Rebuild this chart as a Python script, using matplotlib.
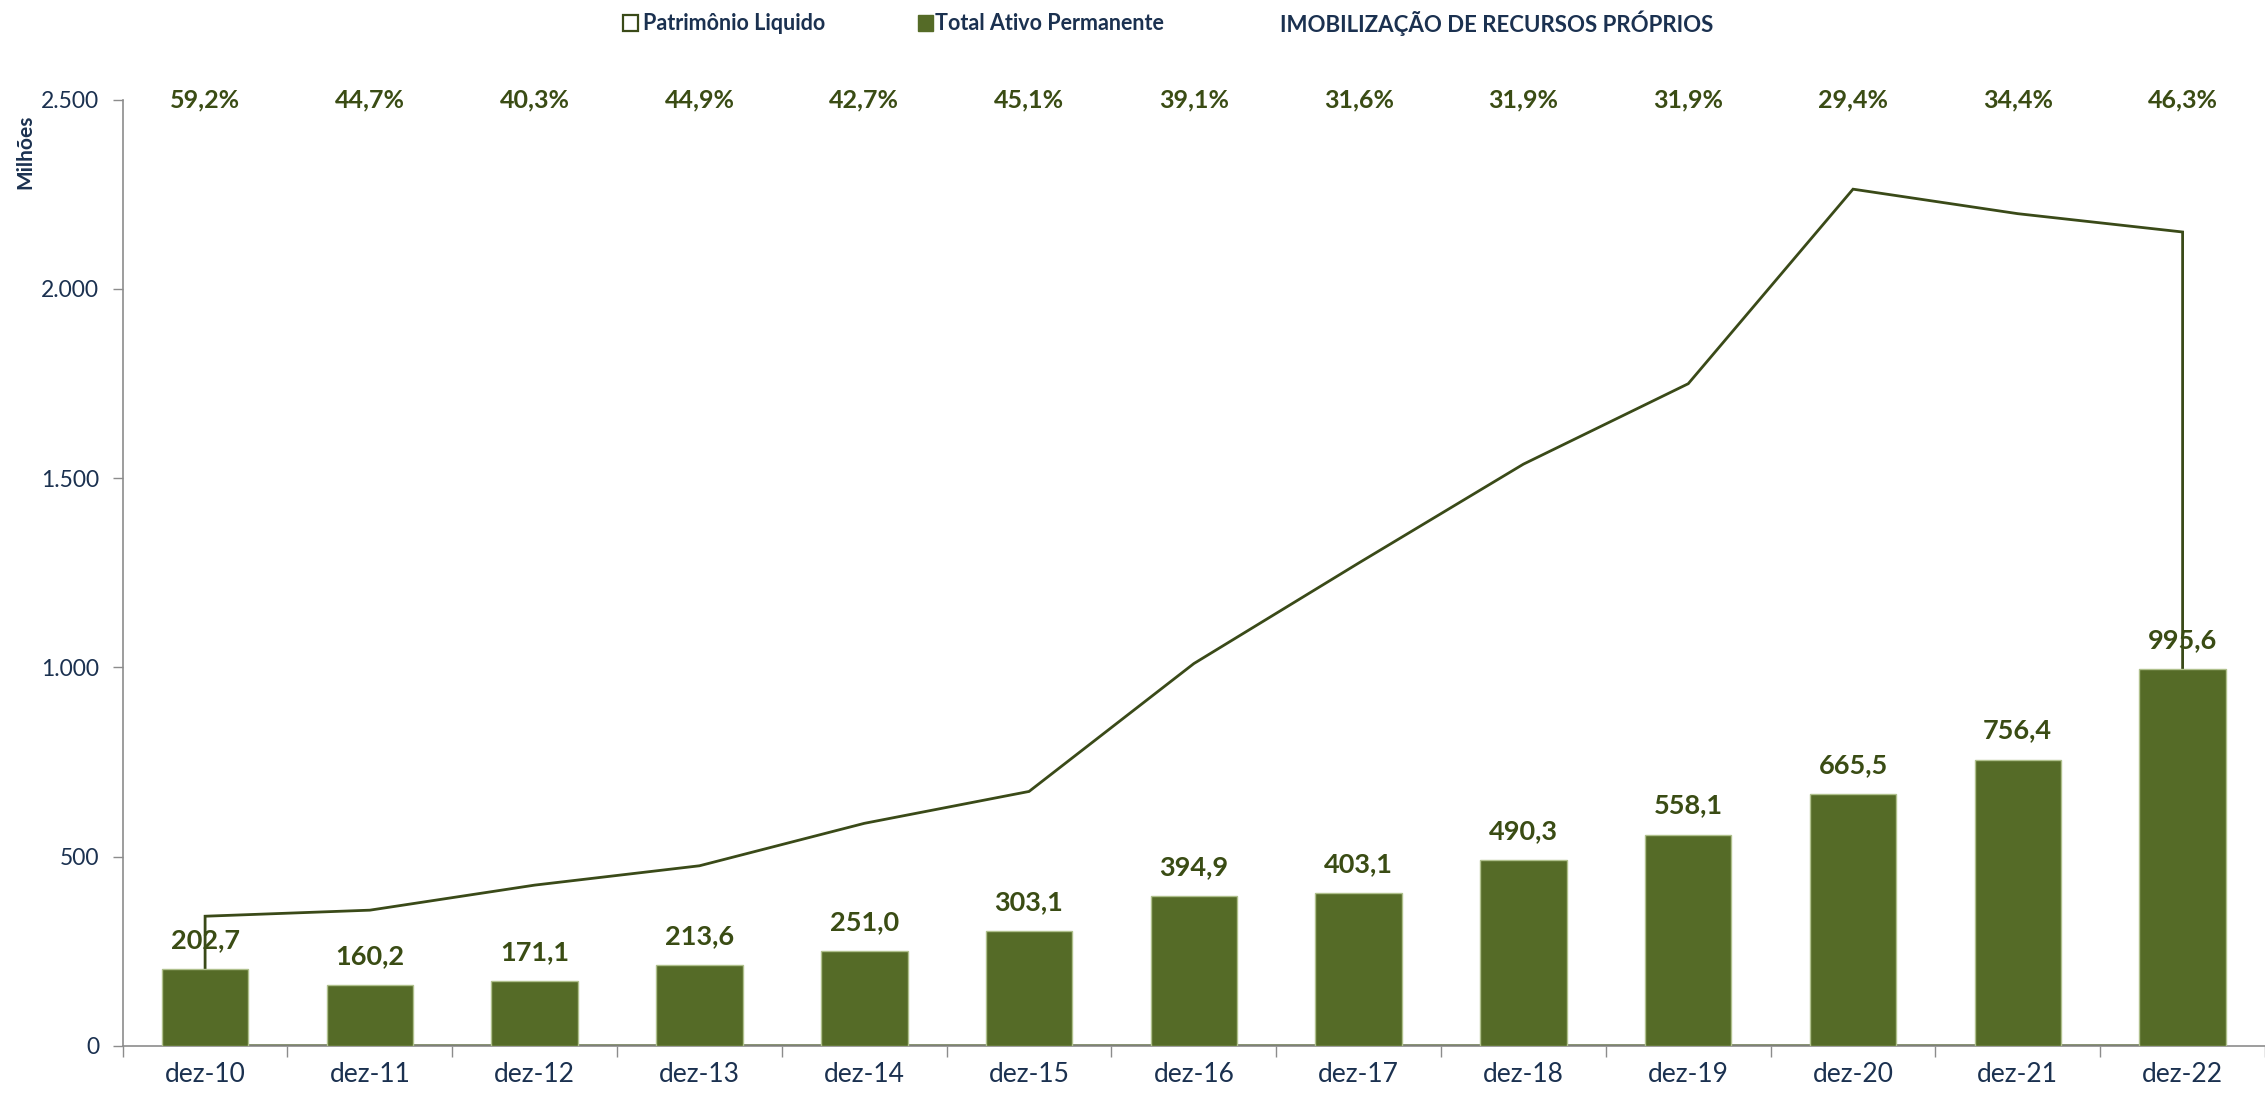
import matplotlib
matplotlib.use("Agg")
import matplotlib.pyplot as plt
from matplotlib import font_manager
from matplotlib.patches import Rectangle
import numpy as np

# ---- data ----
categories = ["dez-10", "dez-11", "dez-12", "dez-13", "dez-14", "dez-15", "dez-16",
              "dez-17", "dez-18", "dez-19", "dez-20", "dez-21", "dez-22"]
ativo_permanente = [202.7, 160.2, 171.1, 213.6, 251.0, 303.1, 394.9,
                    403.1, 490.3, 558.1, 665.5, 756.4, 995.6]
patrimonio_liquido = [342.4, 358.4, 424.6, 475.7, 587.8, 672.1, 1010.0,
                      1275.6, 1537.0, 1749.5, 2263.6, 2198.8, 2150.4]
imobilizacao_pct = [59.2, 44.7, 40.3, 44.9, 42.7, 45.1, 39.1,
                    31.6, 31.9, 31.9, 29.4, 34.4, 46.3]
y_ticks = [0, 500, 1000, 1500, 2000, 2500]

# ---- style ----
names = {f.name for f in font_manager.fontManager.ttflist}
base_font = "Lato" if "Lato" in names else "DejaVu Sans"
plt.rcParams["font.family"] = [base_font, "DejaVu Sans"]

BAR = "#556B27"
BAR_EDGE = "#AFC08C"
LINE = "#3A4A18"
LABEL_GREEN = "#3A4C14"
NAVY = "#1B3150"
SPINE = "#8C8C8C"

W, H = 2265, 1093
fig = plt.figure(figsize=(W / 100, H / 100), dpi=100)
ax = fig.add_axes([122.7 / W, 1 - 1045.8 / H, 1 - 122.7 / W, (1045.8 - 99.7) / H])

x = np.arange(len(categories))

# Patrimônio Líquido as an unfilled area outline
xa = np.concatenate([[x[0]], x, [x[-1]]])
ya = np.concatenate([[0], patrimonio_liquido, [0]])
ax.fill(xa, ya, facecolor="none", edgecolor=LINE, linewidth=2.0, zorder=2, closed=True)

# Total Ativo Permanente bars
ax.bar(x, ativo_permanente, width=0.525, color=BAR, edgecolor=BAR_EDGE,
       linewidth=1.0, zorder=3)

for xi, v in zip(x, ativo_permanente):
    ax.annotate(f"{v:.1f}".replace(".", ","), (xi, v), xytext=(0, 21),
                textcoords="offset points", ha="center", va="center",
                fontsize=19.5, fontweight="bold", color=LABEL_GREEN, zorder=5)

for xi, p in zip(x, imobilizacao_pct):
    ax.text(xi, 2500, f"{p:.1f}%".replace(".", ","), ha="center", va="center",
            fontsize=18, fontweight="bold", color=LABEL_GREEN)

ax.set_xlim(-0.5, -0.5 + (W - 122.7) / 166.0)
ax.set_ylim(0, 2500)

ax.set_yticks(y_ticks)
ax.set_yticklabels([f"{t:,}".replace(",", ".") for t in y_ticks])
ax.set_xticks(x)
ax.set_xticklabels(categories)
ax.set_xticks(np.arange(-0.5, len(categories), 1.0), minor=True)

ax.tick_params(axis="x", which="major", length=0, pad=12, labelsize=19, labelcolor=NAVY)
ax.tick_params(axis="x", which="minor", length=8, width=1, color=SPINE, direction="out")
ax.tick_params(axis="y", which="major", length=7, width=1, color=SPINE, pad=10,
               labelsize=16.5, labelcolor=NAVY)

for s in ["top", "right"]:
    ax.spines[s].set_visible(False)
for s in ["left", "bottom"]:
    ax.spines[s].set_color(SPINE)
    ax.spines[s].set_linewidth(1.2)

# y axis title
fig.text(25 / W, 1 - 152 / H, "Milhões", rotation=90, ha="center", va="center",
         fontsize=15, fontweight="bold", color=NAVY)

# legend / title row
ly = 1 - 23 / H
sq = 15
fig.patches.append(Rectangle((623 / W, ly - (sq / 2) / H), sq / W, sq / H, transform=fig.transFigure,
                             facecolor="white", edgecolor=LINE, linewidth=1.6))
fig.text(643 / W, ly, "Patrimônio Liquido", ha="left", va="center", fontsize=15.5,
         fontweight="bold", color=NAVY)
fig.patches.append(Rectangle((918 / W, ly - (sq / 2) / H), sq / W, sq / H, transform=fig.transFigure,
                             facecolor=BAR, edgecolor=BAR, linewidth=1))
fig.text(935 / W, ly, "Total Ativo Permanente", ha="left", va="center", fontsize=15.5,
         fontweight="bold", color=NAVY)
fig.text(1280 / W, ly, "IMOBILIZAÇÃO DE RECURSOS PRÓPRIOS", ha="left", va="center",
         fontsize=16, fontweight="bold", color=NAVY)

fig.savefig("out.png", dpi=100)
